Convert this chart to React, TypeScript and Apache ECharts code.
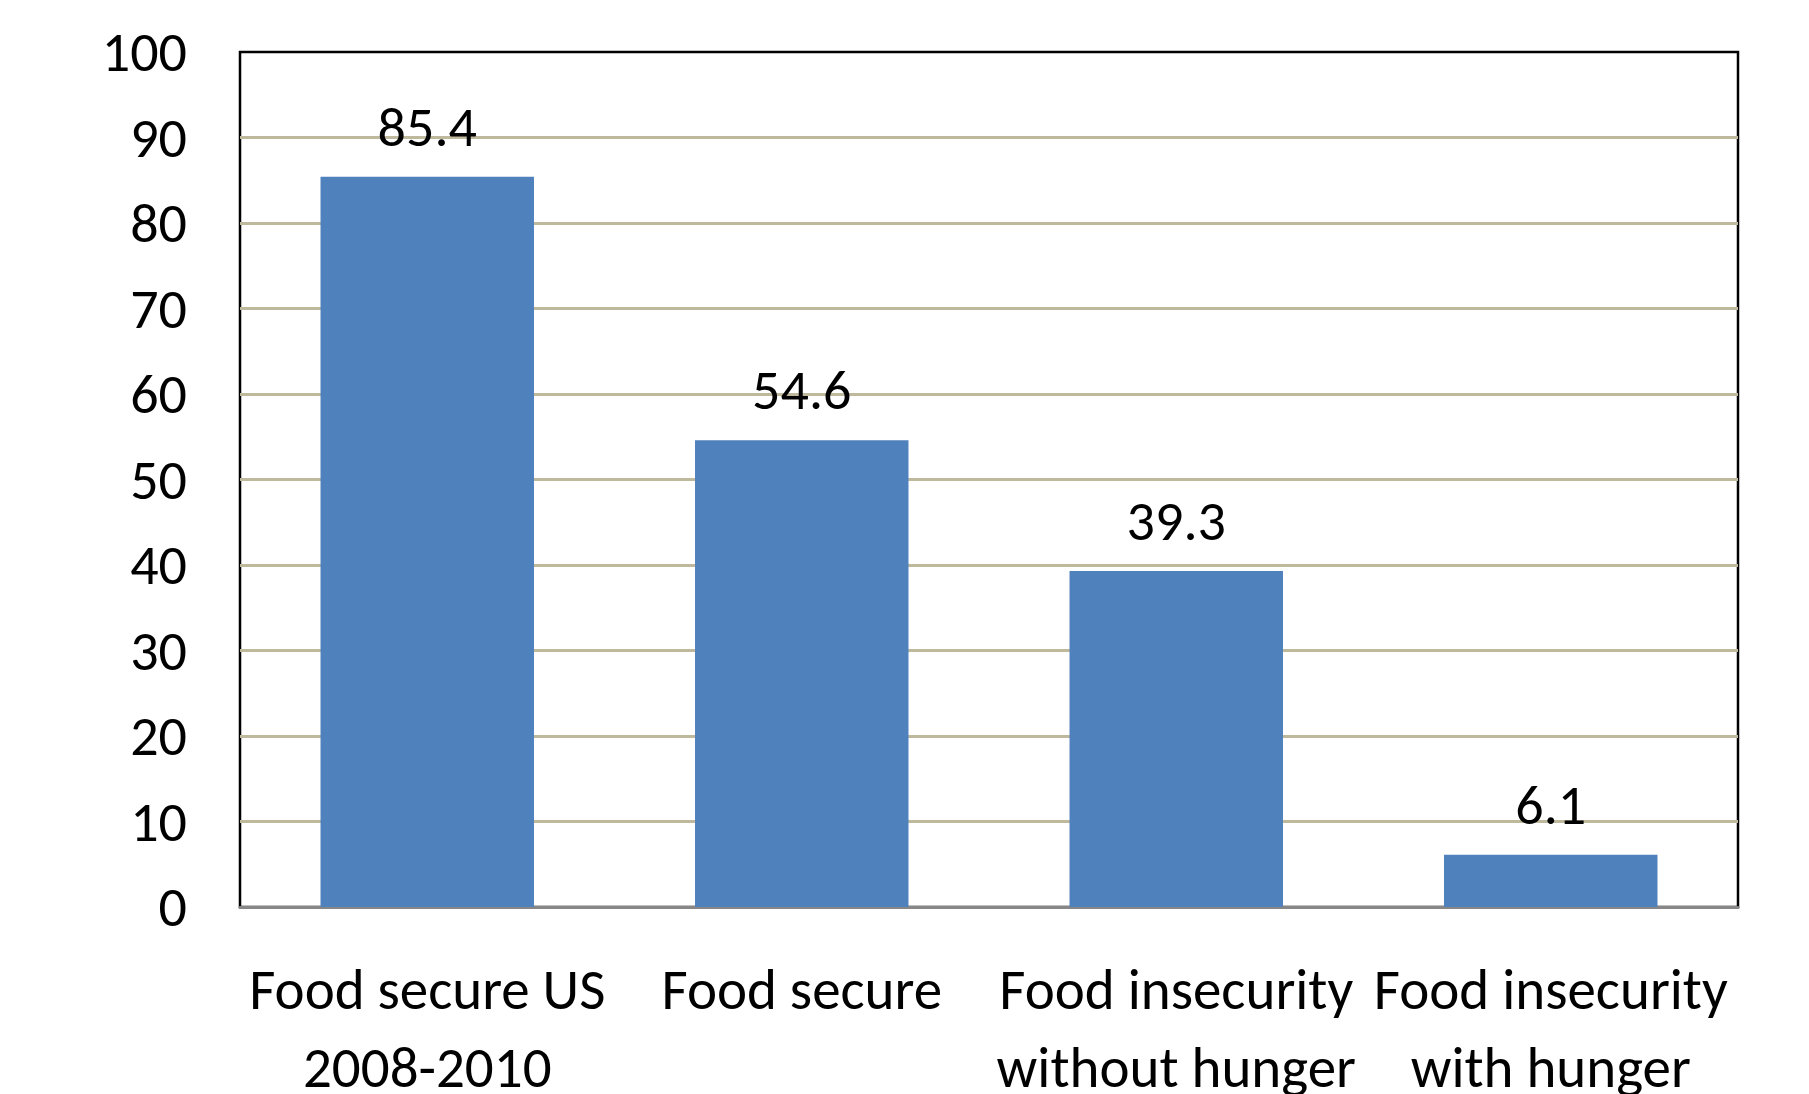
import React, { useEffect, useRef } from "react";
import * as echarts from "echarts";

const categories = [
  "Food secure US\n2008-2010",
  "Food secure",
  "Food insecurity\nwithout hunger",
  "Food insecurity\nwith hunger",
];
const values = [85.4, 54.6, 39.3, 6.1];
const yMin = 0;
const yMax = 100;
const yInterval = 10;

const FONT = "Carlito, Calibri, Lato, 'Liberation Sans', sans-serif";

export default function App() {
  const ref = useRef<HTMLDivElement>(null);
  useEffect(() => {
    if (!ref.current) return;
    const chart = echarts.init(ref.current, undefined, { renderer: "svg" });
    chart.setOption({
      animation: false,
      backgroundColor: "#ffffff",
      grid: {
        left: 240,
        right: 71,
        top: 52,
        bottom: 187,
        show: true,
        borderColor: "#000000",
        borderWidth: 2.5,
        backgroundColor: "transparent",
        containLabel: false,
        outerBoundsMode: "none",
      },
      xAxis: {
        type: "category",
        data: categories,
        axisLine: { show: true, lineStyle: { color: "#878787", width: 3 } },
        axisTick: { show: false },
        axisLabel: {
          interval: 0,
          color: "#000000",
          fontFamily: FONT,
          fontSize: 57,
          lineHeight: 78,
          margin: 43,
        },
        splitLine: { show: false },
      },
      yAxis: {
        type: "value",
        min: yMin,
        max: yMax,
        interval: yInterval,
        axisLine: { show: false },
        axisTick: { show: false },
        axisLabel: {
          color: "#000000",
          fontFamily: FONT,
          fontSize: 56,
          margin: 53,
        },
        splitLine: {
          show: true,
          showMinLine: false,
          showMaxLine: false,
          lineStyle: { color: "#BEB89C", width: 3 },
        },
      },
      series: [
        {
          type: "bar",
          data: values,
          barCategoryGap: "43%",
          itemStyle: { color: "#4F81BD" },
          label: {
            show: true,
            position: "top",
            distance: 20,
            color: "#000000",
            fontFamily: FONT,
            fontSize: 56,
            lineHeight: 60,
          },
        },
      ],
    });
    return () => chart.dispose();
  }, []);
  return (
    <div
      ref={ref}
      style={{ position: "fixed", left: 0, top: 0, width: 1809, height: 1094 }}
    />
  );
}
